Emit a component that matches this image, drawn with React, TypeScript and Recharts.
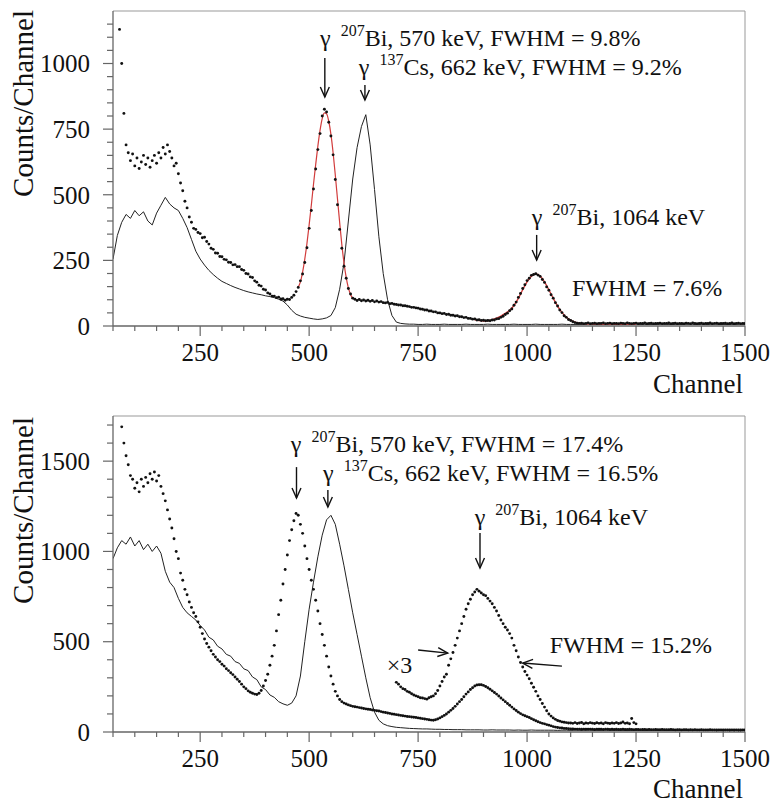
import React from 'react';
import { ComposedChart, Line, Scatter, XAxis, YAxis, ReferenceLine, ReferenceDot } from 'recharts';

const SERIF = "'Liberation Serif', 'DejaVu Serif', serif";
const INK = '#111';
const AXIS = '#666';
const FRAME = '#999';
const FIT = '#d23c3c';
const TXT = { fontFamily: SERIF };

// axis ticks
const X_TICKS = [50, 100, 150, 200, 250, 300, 350, 400, 450, 500, 550, 600, 650, 700, 750, 800, 850, 900, 950, 1000, 1050, 1100, 1150, 1200, 1250, 1300, 1350, 1400, 1450, 1500];
const X_LABELS = [250, 500, 750, 1000, 1250, 1500];
const TOP_Y_TICKS = [0, 50, 100, 150, 200, 250, 300, 350, 400, 450, 500, 550, 600, 650, 700, 750, 800, 850, 900, 950, 1000, 1050, 1100, 1150];
const TOP_Y_LABELS = [0, 250, 500, 750, 1000];
const BOT_Y_TICKS = [0, 100, 200, 300, 400, 500, 600, 700, 800, 900, 1000, 1100, 1200, 1300, 1400, 1500, 1600, 1700];
const BOT_Y_LABELS = [0, 500, 1000, 1500];

// spectra: counts read every `step` channels from a start channel
// top panel, 207Bi (dots), from channel 65, every 5
const topBi = [
  1130, 1000, 810, 690,
  660, 630, 655, 610, 640, 600, 625, 650, 615, 640, 605, 630, 650, 620, 660, 640, 680, 655, 690, 665, 640, 610, 620, 580,
  545, 515, 475, 450, 415, 395, 372, 368, 356, 352, 336, 338, 322, 312, 296, 292, 278, 277, 265, 264,
  254, 252, 243, 242, 233, 234, 226, 226, 215, 212, 200, 198, 187, 185, 172, 167, 155, 152, 140, 137,
  126, 122, 114, 114, 108, 110, 103, 104, 98, 102, 101, 109, 117, 131, 147, 172, 198, 242, 298, 372,
  440, 522, 598, 672, 733, 800, 826, 815, 776, 724, 652, 558, 462, 368, 296, 228, 182, 143, 122, 106,
  102, 97, 101, 96, 99, 95, 98, 94, 97, 92, 95, 91, 93, 89, 88, 90, 85, 86, 83, 82,
  80, 80, 77, 77, 75, 74, 71, 71, 69, 68, 65, 64, 61, 61, 57, 57, 54, 54, 50, 50,
  47, 48, 44, 45, 41, 41, 38, 39, 35, 35, 32, 33, 29, 29, 26, 27, 23, 24, 21, 22,
  20, 21, 20, 23, 23, 27, 28, 33, 37, 44, 49, 58, 65, 79, 91, 109, 124, 143, 157, 173,
  182, 193, 196, 199, 194, 189, 177, 166, 149, 136, 119, 106, 89, 76, 61, 51, 39, 33, 25, 21,
  16, 13, 11, 10, 11, 9, 10, 12, 9, 10, 11, 9, 10, 10, 12, 9, 10, 11, 9, 10,
  10, 9, 11, 10, 9, 12, 10, 9, 10, 11, 9, 10, 10, 12, 9, 10, 11, 9, 10, 10,
  11, 9, 10, 10, 12, 9, 10, 11, 9, 10, 10, 9, 11, 10, 9, 12, 10, 9, 10, 11,
  9, 10, 10, 12, 9, 10, 11, 9, 10, 10, 11, 9, 10, 12, 9, 10, 11, 9, 10, 10,
];
// top panel, 137Cs (line), from channel 50, every 10
const topCs = [
  255, 345, 395, 425, 410, 440, 420, 435, 400, 385,
  430, 460, 490, 465, 450, 440, 410, 375, 330, 285,
  255, 232, 212, 196, 182, 170, 162, 154, 147, 141,
  135, 130, 126, 122, 119, 115, 112, 108, 102, 95,
  80, 60, 45, 38, 33, 30, 27, 25, 27, 31,
  40, 70, 140, 240, 400, 560, 680, 760, 805, 690,
  520, 340, 200, 100, 40, 15, 10, 8, 7, 7,
  6, 6, 7, 6, 6, 6, 7, 6, 6, 6,
  6, 7, 6, 6, 6, 6, 7, 6, 6, 6,
  6, 6, 7, 6, 6, 6, 6, 7, 6, 6,
  6, 6, 6, 7, 6, 6, 6, 6, 6, 7,
  6, 6, 6, 6, 7, 6, 6, 6, 6, 6,
  7, 6, 6, 6, 6, 6, 7, 6, 6, 6,
  6, 6, 7, 6, 6, 6, 6, 6, 7, 6,
  6, 6, 6, 6, 7, 6,
];
// top panel Gaussian fits (red)
const topFit570 = [148, 168, 205, 255, 315, 385, 460, 540, 615, 685, 745, 790, 812, 808, 780, 730, 660, 575, 485, 395, 310, 240, 185, 145, 120, 105]; // from 475, every 5
const topFit1064 = [24, 21, 19, 20, 24, 30, 38, 48, 60, 78, 105, 138, 168, 190, 198, 190, 168, 138, 106, 76, 52, 34, 22, 15, 11, 9, 8, 8, 8, 7, 7, 7, 7, 7, 7, 7, 7, 7]; // from 880, every 10

// bottom panel, 207Bi (dots), from channel 70, every 5
const botBi = [
  1690, 1600, 1530, 1480, 1420, 1400, 1350, 1380, 1330, 1400, 1360, 1410, 1380, 1430, 1400, 1440, 1390, 1420, 1360, 1320,
  1280, 1230, 1180, 1130, 1070, 1000, 960, 880, 840, 790, 760, 720, 690, 660, 640, 610, 580, 545, 515, 490,
  470, 450, 430, 415, 400, 390, 375, 365, 350, 340, 328, 318, 305, 292, 280, 265, 250, 240, 228, 220,
  215, 210, 208, 215, 230, 255, 285, 320, 370, 420, 480, 560, 650, 730, 820, 900, 980, 1060, 1120, 1170,
  1210, 1200, 1150, 1100, 1030, 960, 900, 840, 790, 730, 670, 600, 540, 480, 420, 360, 310, 265, 225, 200,
  180, 168, 160, 155, 150, 146, 142, 140, 138, 135, 133, 130, 128, 126, 125, 122, 120, 118, 116, 113,
  110, 108, 105, 103, 100, 98, 96, 94, 92, 90, 88, 86, 85, 83, 82, 80, 78, 76, 74, 72,
  70, 68, 66, 65, 68, 72, 78, 85, 92, 100, 110, 120, 130, 142, 155, 168, 180, 195, 210, 222,
  235, 245, 255, 260, 262, 262, 258, 252, 245, 237, 228, 219, 210, 199, 188, 178, 168, 158, 148, 138,
  128, 119, 110, 102, 95, 90, 85, 80, 74, 68, 62, 57, 52, 48, 45, 41, 38, 34, 30, 27,
  25, 23, 22, 20, 19, 18, 17, 17, 16, 16, 16, 15, 16, 15, 15, 16, 15, 14, 15, 15,
  15, 14, 15, 15, 14, 15, 14, 15, 14, 14, 15, 14, 14, 15, 14, 13, 14, 14, 13, 14,
  14, 13, 14, 13, 13, 14, 13, 13, 14, 13, 13, 13, 14, 13, 12, 13, 13, 12, 13, 13,
  12, 13, 12, 13, 12, 12, 13, 12, 12, 12, 13, 12, 12, 11, 12, 12, 11, 12, 12, 11,
  12, 11, 12, 11, 11, 12, 11,
];
// bottom panel, 207Bi scaled x3, from channel 700, every 5
const botBiX3 = [
  275, 265, 250, 240, 235, 225, 220, 212, 205, 200, 195, 190, 188, 185, 182, 190, 195, 200, 212, 230,
  255, 280, 305, 320, 370, 405, 440, 480, 520, 560, 600, 640, 680, 710, 735, 760, 775, 790, 780, 770,
  760, 755, 740, 725, 710, 690, 670, 645, 620, 600, 580, 565, 545, 520, 480, 450, 415, 385, 360, 335,
  315, 295, 270, 248, 225, 200, 180, 158, 138, 118, 100, 88, 78, 70, 64, 60, 56, 54, 52, 50,
  50, 48, 52, 47, 50, 53, 46, 50, 48, 52, 49, 47, 51, 48, 50, 46, 52, 49, 47, 50,
  48, 52, 47, 50, 55, 48, 50, 46, 75, 52, 45,
];
// bottom panel, 137Cs (line), from channel 50, every 10
const botCs = [
  960, 1020, 1060, 1040, 1080, 1030, 1060, 1010, 1040, 1000,
  1030, 990, 890, 830, 800, 740, 690, 660, 640, 620,
  590, 565, 525, 510, 475, 460, 430, 420, 390, 380,
  350, 340, 305, 290, 250, 235, 205, 192, 168, 156,
  148, 160, 200, 310, 500, 680, 830, 970, 1090, 1175,
  1200, 1150, 1040, 920, 790, 660, 540, 420, 300, 190,
  110, 65, 45, 35, 30, 26, 24, 22, 20, 19,
  18, 17, 17, 16, 15, 15, 14, 14, 13, 13,
  13, 12, 12, 12, 12, 11, 11, 12, 11, 11,
  11, 11, 10, 11, 10, 10, 11, 10, 10, 10,
  10, 10, 9, 10, 10, 9, 10, 9, 9, 10,
  9, 9, 9, 10, 9, 9, 9, 9, 8, 9,
  9, 9, 8, 9, 9, 8, 9, 8, 9, 8,
  8, 9, 8, 8, 9, 8, 8, 8, 9, 8,
  8, 8, 8, 9, 8, 8,
];

const series = (start: number, step: number, values: number[]) =>
  values.map((y, i) => ({ x: start + i * step, y }));

const dot = (p: any) => <circle cx={p.cx} cy={p.cy} r={1.45} fill={INK} />;

const xTick = (p: any) => {
  const v = p.payload.value;
  const major = X_LABELS.includes(v);
  return (
    <g>
      <line x1={p.x} x2={p.x} y1={p.y} y2={p.y + (major ? 10 : 5)} stroke={AXIS} strokeWidth={1.2} />
      {major && (
        <text x={p.x} y={p.y + 35} textAnchor="middle" style={TXT} fontSize={25} fill={INK}>
          {v}
        </text>
      )}
    </g>
  );
};

const yTick = (labels: number[]) => (p: any) => {
  const v = p.payload.value;
  const major = labels.includes(v);
  return (
    <g>
      <line x1={p.x} x2={p.x - (major ? 10 : 6)} y1={p.y} y2={p.y} stroke={AXIS} strokeWidth={1.2} />
      {major && (
        <text x={p.x - 23} y={p.y} dy="0.35em" textAnchor="end" style={TXT} fontSize={25} fill={INK}>
          {v}
        </text>
      )}
    </g>
  );
};

const ChannelLabel = ({ viewBox, dy }: any) => (
  <text x={viewBox.x + viewBox.width - 2} y={viewBox.y + dy} textAnchor="end" style={TXT} fontSize={27} fill={INK}>
    Channel
  </text>
);

const CountsLabel = ({ viewBox, dy }: any) => {
  const x = 33;
  const y = viewBox.y + dy;
  return (
    <text x={x} y={y} transform={`rotate(-90 ${x} ${y})`} textAnchor="end" style={TXT} fontSize={29} fill={INK}>
      Counts/Channel
    </text>
  );
};

// "γ ²⁰⁷Bi, ..." style label, anchored at its left baseline
const Anno = ({ viewBox, sup, text, gamma = true }: any) => (
  <text x={viewBox.x} y={viewBox.y} style={TXT} fontSize={24} fill={INK}>
    {gamma ? 'γ' : ''}
    {sup ? <tspan fontSize={16} dx={10} dy={-10}>{sup}</tspan> : null}
    <tspan dy={sup ? 10 : 0}>{text}</tspan>
  </text>
);

const arrow = (p: any) => {
  const { x1, y1, x2, y2 } = p;
  const a = Math.atan2(y2 - y1, x2 - x1);
  const L = 11;
  const w = 0.42;
  const ax = x2 - L * Math.cos(a - w);
  const ay = y2 - L * Math.sin(a - w);
  const bx = x2 - L * Math.cos(a + w);
  const by = y2 - L * Math.sin(a + w);
  return (
    <g stroke={INK} strokeWidth={1.4} fill="none">
      <line x1={x1} y1={y1} x2={x2} y2={y2} />
      <polyline points={`${ax},${ay} ${x2},${y2} ${bx},${by}`} />
    </g>
  );
};

const noDot = () => <g />;

export default function App() {
  return (
    <div style={{ position: 'absolute', left: 0, top: 0, width: 773, height: 803, background: '#fff', fontFamily: SERIF }}>
      <div style={{ position: 'absolute', left: 0, top: 0 }}>
        <ComposedChart width={773} height={400} margin={{ top: 11, right: 28, bottom: 0, left: 0 }}>
          <XAxis
            type="number" dataKey="x" domain={[50, 1500]} ticks={X_TICKS} interval={0} allowDataOverflow
            tickSize={0} tickMargin={0} tickLine={false} tick={xTick} height={74}
            axisLine={{ stroke: AXIS, strokeWidth: 1.3 }}
            label={<ChannelLabel dy={67} />}
          />
          <YAxis
            type="number" dataKey="y" domain={[0, 1200]} ticks={TOP_Y_TICKS} interval={0} allowDataOverflow
            tickSize={0} tickMargin={0} tickLine={false} tick={yTick(TOP_Y_LABELS)} width={113}
            axisLine={{ stroke: AXIS, strokeWidth: 1.3 }}
            label={<CountsLabel dy={-1} />}
          />
          <ReferenceLine y={1200} stroke={FRAME} strokeWidth={1} />
          <ReferenceLine x={1500} stroke={FRAME} strokeWidth={1} />
          <Line data={series(50, 10, topCs)} dataKey="y" type="linear" stroke="#222" strokeWidth={1} dot={false} isAnimationActive={false} />
          <Scatter data={series(65, 5, topBi)} shape={dot} isAnimationActive={false} />
          <Line data={series(475, 5, topFit570)} dataKey="y" type="monotone" stroke={FIT} strokeWidth={1.2} dot={false} isAnimationActive={false} />
          <Line data={series(880, 10, topFit1064)} dataKey="y" type="monotone" stroke={FIT} strokeWidth={1.4} dot={false} isAnimationActive={false} />
          <ReferenceLine segment={[{ x: 536, y: 1021 }, { x: 536, y: 872 }]} shape={arrow} />
          <ReferenceLine segment={[{ x: 628, y: 918 }, { x: 628, y: 861 }]} shape={arrow} />
          <ReferenceLine segment={[{ x: 1022, y: 347 }, { x: 1022, y: 251 }]} shape={arrow} />
          <ReferenceDot x={525} y={1067} r={0} shape={noDot} label={<Anno sup="207" text="Bi, 570 keV, FWHM = 9.8%" />} />
          <ReferenceDot x={614} y={956} r={0} shape={noDot} label={<Anno sup="137" text="Cs, 662 keV, FWHM = 9.2%" />} />
          <ReferenceDot x={1011} y={385} r={0} shape={noDot} label={<Anno sup="207" text="Bi, 1064 keV" />} />
          <ReferenceDot x={1103} y={114} r={0} shape={noDot} label={<Anno gamma={false} text="FWHM = 7.6%" />} />
        </ComposedChart>
      </div>
      <div style={{ position: 'absolute', left: 0, top: 400 }}>
        <ComposedChart width={773} height={403} margin={{ top: 16, right: 28, bottom: 0, left: 0 }}>
          <XAxis
            type="number" dataKey="x" domain={[50, 1500]} ticks={X_TICKS} interval={0} allowDataOverflow
            tickSize={0} tickMargin={0} tickLine={false} tick={xTick} height={71}
            axisLine={{ stroke: AXIS, strokeWidth: 1.3 }}
            label={<ChannelLabel dy={66} />}
          />
          <YAxis
            type="number" dataKey="y" domain={[0, 1750]} ticks={BOT_Y_TICKS} interval={0} allowDataOverflow
            tickSize={0} tickMargin={0} tickLine={false} tick={yTick(BOT_Y_LABELS)} width={113}
            axisLine={{ stroke: AXIS, strokeWidth: 1.3 }}
            label={<CountsLabel dy={1} />}
          />
          <ReferenceLine y={1750} stroke={FRAME} strokeWidth={1} />
          <ReferenceLine x={1500} stroke={FRAME} strokeWidth={1} />
          <Line data={series(50, 10, botCs)} dataKey="y" type="linear" stroke="#222" strokeWidth={1} dot={false} isAnimationActive={false} />
          <Scatter data={series(70, 5, botBi)} shape={dot} isAnimationActive={false} />
          <Scatter data={series(700, 5, botBiX3)} shape={dot} isAnimationActive={false} />
          <ReferenceLine segment={[{ x: 471, y: 1467 }, { x: 471, y: 1296 }]} shape={arrow} />
          <ReferenceLine segment={[{ x: 543, y: 1340 }, { x: 543, y: 1246 }]} shape={arrow} />
          <ReferenceLine segment={[{ x: 892, y: 1102 }, { x: 892, y: 908 }]} shape={arrow} />
          <ReferenceLine segment={[{ x: 750, y: 454 }, { x: 818, y: 437 }]} shape={arrow} />
          <ReferenceLine segment={[{ x: 1080, y: 365 }, { x: 990, y: 382 }]} shape={arrow} />
          <ReferenceDot x={458} y={1551} r={0} shape={noDot} label={<Anno sup="207" text="Bi, 570 keV, FWHM = 17.4%" />} />
          <ReferenceDot x={532} y={1390} r={0} shape={noDot} label={<Anno sup="137" text="Cs, 662 keV, FWHM = 16.5%" />} />
          <ReferenceDot x={880} y={1146} r={0} shape={noDot} label={<Anno sup="207" text="Bi, 1064 keV" />} />
          <ReferenceDot x={1052} y={437} r={0} shape={noDot} label={<Anno gamma={false} text="FWHM = 15.2%" />} />
          <ReferenceDot x={678} y={327} r={0} shape={noDot} label={<Anno gamma={false} text="×3" />} />
        </ComposedChart>
      </div>
    </div>
  );
}
